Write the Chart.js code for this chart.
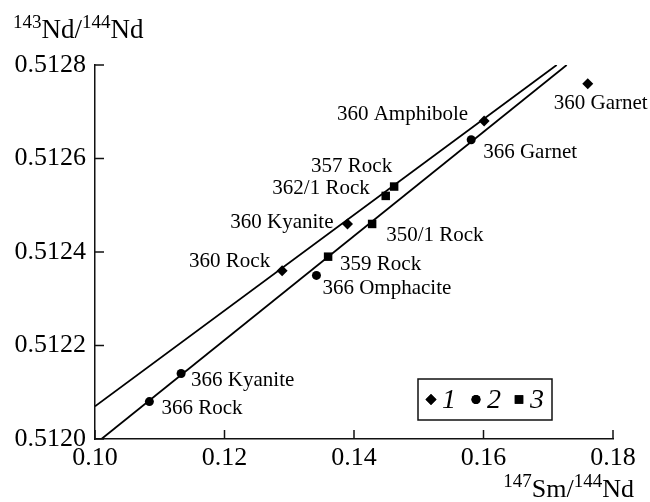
<!DOCTYPE html>
<html>
<head>
<meta charset="utf-8">
<script src="https://cdn.jsdelivr.net/npm/chart.js@4"></script>
<style>
  html, body { margin: 0; padding: 0; background: #fff; }
  #wrap { width: 650px; height: 502px; }
</style>
</head>
<body>
<div id="wrap"><canvas id="isochron" width="650" height="502"></canvas></div>
<script>
/* =====================================================
   DATA
===================================================== */

// series 1 - diamonds (sample 360)
const diamondX = [0.1289, 0.1390, 0.1601, 0.1761];
const diamondY = [0.51236, 0.51246, 0.51268, 0.51276];
const diamondNames = ["360 Rock", "360 Kyanite", "360 Amphibole", "360 Garnet"];

// series 2 - circles (sample 366)
const circleX = [0.1084, 0.1133, 0.1342, 0.1581];
const circleY = [0.51208, 0.51214, 0.51235, 0.51264];
const circleNames = ["366 Rock", "366 Kyanite", "366 Omphacite", "366 Garnet"];

// series 3 - squares (rocks)
const squareX = [0.1462, 0.1449, 0.1428, 0.1360];
const squareY = [0.51254, 0.51252, 0.51246, 0.51239];
const squareNames = ["357 Rock", "362/1 Rock", "350/1 Rock", "359 Rock"];

// isochron lines (end points)
const upperLineX = [0.1000, 0.1713];
const upperLineY = [0.51207, 0.51280];
const lowerLineX = [0.1010, 0.17285];
const lowerLineY = [0.51200, 0.51280];

// axis ticks
const xTicks = [0.10, 0.12, 0.14, 0.16, 0.18];
const yTicks = [0.5120, 0.5122, 0.5124, 0.5126, 0.5128];

const legendNames = ["1", "2", "3"];


/* =====================================================
   LABEL PLACEMENT (pixel offsets from each point)
===================================================== */

const labelOffsets = {
  "360 Rock":      { dx: -12, dy: -4,  align: "right" },
  "360 Kyanite":   { dx: -14, dy: 4,   align: "right" },
  "360 Amphibole": { dx: -16, dy: -1,  align: "right" },
  "360 Garnet":    { dx: -34, dy: 25,  align: "left" },
  "366 Rock":      { dx: 12,  dy: 12,  align: "left" },
  "366 Kyanite":   { dx: 10,  dy: 12,  align: "left" },
  "366 Omphacite": { dx: 6,   dy: 19,  align: "left" },
  "366 Garnet":    { dx: 12,  dy: 18,  align: "left" },
  "357 Rock":      { dx: -2,  dy: -15, align: "right" },
  "362/1 Rock":    { dx: -16, dy: -2,  align: "right" },
  "350/1 Rock":    { dx: 14,  dy: 17,  align: "left" },
  "359 Rock":      { dx: 12,  dy: 13,  align: "left" }
};

const SERIF = "'Liberation Serif', 'DejaVu Serif', serif";

function toPoints(xs, ys) {
  return xs.map((x, i) => ({ x: x, y: ys[i] }));
}


/* =====================================================
   PLUGIN: inward ticks, point labels, titles, legend
===================================================== */

// draws "143Nd/144Nd" style text with superscripts
function drawSupText(ctx, parts, x, y, big, small) {
  parts.forEach(p => {
    if (p.sup) {
      ctx.font = small + "px " + SERIF;
      ctx.fillText(p.t, x, y - big * 0.38);
    } else {
      ctx.font = big + "px " + SERIF;
      ctx.fillText(p.t, x, y);
    }
    x += ctx.measureText(p.t).width;
  });
}

function supWidth(ctx, parts, big, small) {
  let w = 0;
  parts.forEach(p => {
    ctx.font = (p.sup ? small : big) + "px " + SERIF;
    w += ctx.measureText(p.t).width;
  });
  return w;
}

const extrasPlugin = {
  id: "extras",
  afterDraw(chart) {
    const ctx = chart.ctx;
    const xs = chart.scales.x;
    const ys = chart.scales.y;
    const area = chart.chartArea;

    ctx.save();
    ctx.strokeStyle = "#111";
    ctx.lineWidth = 1.5;

    // Inward tick marks
    xTicks.forEach(v => {
      const px = xs.getPixelForValue(v);
      ctx.beginPath();
      ctx.moveTo(px, area.bottom);
      ctx.lineTo(px, area.bottom - 9);
      ctx.stroke();
    });
    yTicks.forEach(v => {
      const py = ys.getPixelForValue(v);
      ctx.beginPath();
      ctx.moveTo(area.left, py);
      ctx.lineTo(area.left + 9, py);
      ctx.stroke();
    });

    // Point labels
    ctx.fillStyle = "#000";
    ctx.font = "21px " + SERIF;
    ctx.textBaseline = "alphabetic";
    const groups = [
      [diamondX, diamondY, diamondNames],
      [circleX, circleY, circleNames],
      [squareX, squareY, squareNames]
    ];
    groups.forEach(g => {
      g[2].forEach((name, i) => {
        const off = labelOffsets[name];
        const px = xs.getPixelForValue(g[0][i]);
        const py = ys.getPixelForValue(g[1][i]);
        ctx.textAlign = off.align;
        ctx.fillText(name, px + off.dx, py + off.dy);
      });
    });

    // Axis titles
    ctx.textAlign = "left";
    drawSupText(ctx, [
      { t: "143", sup: true }, { t: "Nd/" },
      { t: "144", sup: true }, { t: "Nd" }
    ], 13, 38, 27, 19);

    const xParts = [
      { t: "147", sup: true }, { t: "Sm/" },
      { t: "144", sup: true }, { t: "Nd" }
    ];
    const w = supWidth(ctx, xParts, 26, 19);
    drawSupText(ctx, xParts, 634 - w, 497, 26, 19);

    // Legend box
    const box = { left: 418, top: 379, right: 552, bottom: 420 };
    ctx.lineWidth = 1.5;
    ctx.strokeRect(box.left, box.top, box.right - box.left, box.bottom - box.top);
    const midY = (box.top + box.bottom) / 2;
    const keys = [
      { style: "rectRot", r: 5.5, x: 431 },
      { style: "circle", r: 4.5, x: 476 },
      { style: "rect", r: 6, x: 519 }
    ];
    keys.forEach((k, i) => {
      Chart.helpers.drawPoint(ctx, {
        pointStyle: k.style, radius: k.r, rotation: 0, borderWidth: 0
      }, k.x, midY);
      ctx.fill();
      ctx.font = "italic 28px " + SERIF;
      ctx.textBaseline = "middle";
      ctx.fillText(legendNames[i], k.x + 11, midY + 1);
    });

    ctx.restore();
  }
};


/* =====================================================
   CHART
===================================================== */

function markerSet(xs, ys, style, r) {
  return {
    data: toPoints(xs, ys),
    pointStyle: style,
    pointRadius: r,
    pointHoverRadius: r,
    backgroundColor: "#000",
    borderColor: "#000",
    borderWidth: 0,
    showLine: false
  };
}

function lineSet(xs, ys) {
  return {
    data: toPoints(xs, ys),
    showLine: true,
    borderColor: "#000",
    borderWidth: 1.8,
    pointRadius: 0,
    fill: false
  };
}

new Chart(document.getElementById("isochron"), {
  type: "scatter",
  data: {
    datasets: [
      lineSet(upperLineX, upperLineY),
      lineSet(lowerLineX, lowerLineY),
      markerSet(diamondX, diamondY, "rectRot", 5.5),
      markerSet(circleX, circleY, "circle", 4.5),
      markerSet(squareX, squareY, "rect", 6)
    ]
  },
  options: {
    responsive: false,
    animation: false,
    layout: { padding: { top: 65, right: 37, left: 0, bottom: 0 } },
    plugins: {
      legend: { display: false },
      tooltip: { enabled: false }
    },
    scales: {
      x: {
        type: "linear",
        min: 0.10,
        max: 0.18,
        afterBuildTicks: s => { s.ticks = xTicks.map(v => ({ value: v })); },
        afterFit: s => { s.height = 63; },
        grid: { display: false, drawTicks: false },
        border: { display: true, color: "#111", width: 1.5 },
        ticks: {
          color: "#000",
          padding: 4,
          maxRotation: 0,
          font: { family: SERIF, size: 26 },
          callback: v => v.toFixed(2)
        }
      },
      y: {
        type: "linear",
        min: 0.5120,
        max: 0.5128,
        afterBuildTicks: s => { s.ticks = yTicks.map(v => ({ value: v })); },
        afterFit: s => { s.width = 95; },
        grid: { display: false, drawTicks: false },
        border: { display: true, color: "#111", width: 1.5 },
        ticks: {
          color: "#000",
          padding: 9,
          font: { family: SERIF, size: 26 },
          callback: v => v.toFixed(4)
        }
      }
    }
  },
  plugins: [extrasPlugin]
});
</script>
</body>
</html>
